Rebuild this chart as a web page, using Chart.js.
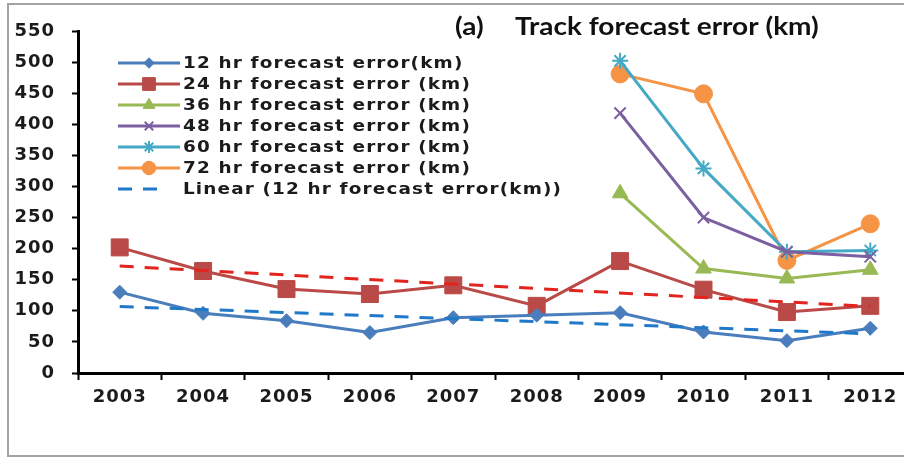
<!DOCTYPE html>
<html>
<head>
<meta charset="utf-8">
<script src="https://cdn.jsdelivr.net/npm/chart.js@4/dist/chart.umd.min.js"></script>
<style>
  html, body { margin: 0; padding: 0; background: #fff; overflow: hidden; }
  #wrap { position: relative; width: 904px; height: 457px; overflow: hidden; }
  #frame {
    position: absolute; left: 7px; top: 3px; width: 960px; height: 450px;
    border: 2px solid #a3a3a3; border-right: none;
  }
  #chart { position: absolute; left: 0; top: 0; }
</style>
</head>
<body>
<div id="wrap">
  <div id="frame"></div>
  <canvas id="chart" width="930" height="457"></canvas>
</div>
<script>
const years = ["2003", "2004", "2005", "2006", "2007", "2008", "2009", "2010", "2011", "2012"];

// track errors (km) per forecast lead time
const err12 = [130, 96, 84, 65, 89, 93, 97, 66, 52, 72];
const err24 = [202, 164, 135, 127, 141, 108, 180, 134, 98, 108];
const err36 = [null, null, null, null, null, null, 289, 168, 152, 166];
const err48 = [null, null, null, null, null, null, 418, 250, 195, 187];
const err60 = [null, null, null, null, null, null, 502, 329, 195, 197];
const err72 = [null, null, null, null, null, null, 481, 449, 181, 240];

// linear trend lines, end points only
const trend12 = [107, null, null, null, null, null, null, null, null, 63];
const trend24 = [172, null, null, null, null, null, null, null, null, 107];

const yTicks = { min: 0, max: 550, step: 50 };

const series = (label, data, color, style, radius, order) => ({
  label: label,
  data: data,
  borderColor: color,
  backgroundColor: color,
  borderWidth: 3,
  pointStyle: style,
  pointRadius: radius,
  pointBorderWidth: (style === "crossRot" || style === "star") ? 2 : 1,
  pointBorderColor: color,
  pointBackgroundColor: color,
  order: order,
});

const datasets = [
  series("12 hr forecast error(km)", err12, "#4a7dbb", "rectRot", 7, 3),
  series("24 hr forecast error (km)", err24, "#b94a47", "rect", 12, 4),
  series("36 hr forecast error (km)", err36, "#98b954", "triangle", 9, 5),
  series("48 hr forecast error (km)", err48, "#7b5fa0", "crossRot", 8, 6),
  series("60 hr forecast error (km)", err60, "#44a9c4", "star", 8, 7),
  series("72 hr forecast error (km)", err72, "#f59445", "circle", 9, 8),
  {
    label: "Linear (12 hr forecast error(km))",
    data: trend12,
    borderColor: "#1f78c8",
    borderWidth: 3,
    borderDash: [14, 11],
    pointRadius: 0,
    spanGaps: true,
    order: 1,
  },
  {
    label: "Linear (24 hr forecast error (km))",
    data: trend24,
    borderColor: "#e3231d",
    borderWidth: 3,
    borderDash: [14, 11],
    pointRadius: 0,
    spanGaps: true,
    order: 2,
    hideInLegend: true,
  },
];

// legend box sitting inside the plot, upper left
const insideLegend = {
  id: "insideLegend",
  afterDraw(chart) {
    const ctx = chart.ctx;
    ctx.save();
    ctx.letterSpacing = "0px";
    ctx.textBaseline = "middle";
    let row = 0;
    chart.data.datasets.forEach((ds) => {
      if (ds.hideInLegend) return;
      const y = 63 + row * 21;
      ctx.save();
      ctx.strokeStyle = ds.borderColor;
      ctx.lineWidth = 3;
      ctx.setLineDash(ds.borderDash || []);
      ctx.beginPath();
      ctx.moveTo(118, y);
      ctx.lineTo(ds.borderDash ? 160 : 180, y);
      ctx.stroke();
      ctx.setLineDash([]);
      if (ds.pointRadius) {
        ctx.fillStyle = ds.borderColor;
        ctx.lineWidth = ds.pointBorderWidth;
        Chart.helpers.drawPoint(ctx, {
          pointStyle: ds.pointStyle,
          radius: ds.pointRadius * 0.75,
          borderWidth: ds.pointBorderWidth,
          rotation: 0,
        }, 149, y);
      }
      ctx.restore();
      ctx.save();
      ctx.fillStyle = "#1b1b1b";
      ctx.font = 'bold 16px "DejaVu Sans"';
      ctx.letterSpacing = "1px";
      ctx.translate(183, y + 1);
      ctx.scale(1.15, 1);
      ctx.fillText(ds.label, 0, 0);
      ctx.restore();
      row++;
    });

    // panel title
    ctx.fillStyle = "#111";
    ctx.textBaseline = "alphabetic";
    ctx.font = 'bold 25px "Lato"';
    const drawWide = (text, x) => {
      ctx.save();
      ctx.translate(x, 35);
      ctx.scale(1.12, 1);
      ctx.fillText(text, 0, 0);
      ctx.restore();
    };
    drawWide("(a)", 455);
    drawWide("Track forecast error (km)", 515);
    ctx.restore();
  },
};

// wider tick text
const tickSpacing = {
  id: "tickSpacing",
  beforeDraw(chart) {
    chart.ctx.letterSpacing = "1px";
  },
};

const ctx = document.getElementById("chart").getContext("2d");
new Chart(ctx, {
  type: "line",
  data: { labels: years, datasets: datasets },
  plugins: [tickSpacing, insideLegend],
  options: {
    responsive: false,
    animation: false,
    layout: { padding: { top: 31, right: 18, bottom: 0, left: 0 } },
    plugins: {
      legend: { display: false },
      tooltip: { enabled: false },
    },
    elements: { line: { tension: 0 } },
    scales: {
      x: {
        offset: true,
        grid: {
          offset: true,
          drawOnChartArea: false,
          tickLength: 7,
          tickWidth: 2,
          tickColor: "#000",
        },
        border: { color: "#000", width: 3 },
        ticks: {
          color: "#1b1b1b",
          font: { family: "DejaVu Sans", size: 18, weight: "bold" },
          padding: 7,
          maxRotation: 0,
        },
        afterFit(scale) { scale.height = 84; },
      },
      y: {
        min: yTicks.min,
        max: yTicks.max,
        grid: {
          drawOnChartArea: false,
          tickLength: 6,
          tickWidth: 2,
          tickColor: "#000",
        },
        border: { color: "#000", width: 3 },
        ticks: {
          stepSize: yTicks.step,
          color: "#1b1b1b",
          font: { family: "DejaVu Sans", size: 18, weight: "bold" },
          padding: 17,
        },
        afterFit(scale) { scale.width = 78; },
      },
    },
  },
});
</script>
</body>
</html>
